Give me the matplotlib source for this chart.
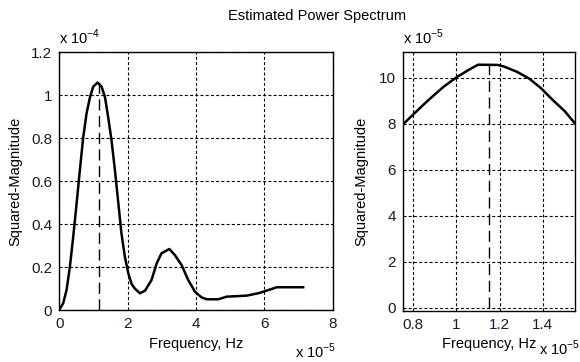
import matplotlib.pyplot as plt

plt.rcParams['font.family'] = ['Liberation Sans', 'DejaVu Sans']
plt.rcParams['mathtext.fontset'] = 'custom'
plt.rcParams['mathtext.rm'] = 'Liberation Sans'

# full spectrum (x in 1e-5 Hz, y in 1e-4)
freq = [0.0, 0.117, 0.216, 0.313, 0.41, 0.51, 0.605, 0.70, 0.80, 0.90, 0.995,
        1.12, 1.24, 1.34, 1.43, 1.53, 1.63, 1.73, 1.82, 1.92, 2.02, 2.12, 2.21,
        2.36, 2.51, 2.70, 2.85, 2.99, 3.22, 3.38, 3.58, 3.77, 3.97, 4.16, 4.31,
        4.65, 4.89, 5.48, 5.82, 6.06, 6.36, 7.13]
power = [0.0, 0.031, 0.093, 0.20, 0.34, 0.496, 0.651, 0.80, 0.915, 0.99, 1.04,
         1.059, 1.04, 0.99, 0.90, 0.79, 0.651, 0.496, 0.357, 0.248, 0.171, 0.12,
         0.10, 0.078, 0.09, 0.14, 0.217, 0.264, 0.284, 0.256, 0.209, 0.14, 0.085,
         0.059, 0.05, 0.05, 0.062, 0.067, 0.078, 0.09, 0.106, 0.106]

# zoom around the peak (x in 1e-5 Hz, y in 1e-5)
zfreq = [0.753, 0.80, 0.871, 0.94, 1.003, 1.05, 1.088, 1.10, 1.19, 1.22, 1.28,
         1.336, 1.39, 1.445, 1.50, 1.549]
zpower = [7.97, 8.4, 9.03, 9.6, 10.03, 10.3, 10.5, 10.56, 10.55, 10.48, 10.25,
          9.96, 9.55, 9.03, 8.55, 8.0]
fpeak = 1.15

fig = plt.figure(figsize=(5.8, 3.62), dpi=100)
ax1 = fig.add_axes([0.102, 0.1436, 0.472, 0.712])
ax2 = fig.add_axes([0.695, 0.141, 0.2966, 0.7146])

grid_kw = dict(color='black', linestyle=(0, (2.7, 2.0)), linewidth=0.8)

# left panel
ax1.plot(freq, power, color='black', lw=1.8)
ax1.plot([fpeak, fpeak], [0, 1.06], color='black', lw=1, dashes=(8, 4))
ax1.set_xlim(0, 8)
ax1.set_ylim(0, 1.2)
ax1.set_xticks([0, 2, 4, 6, 8])
ax1.set_yticks([0, 0.2, 0.4, 0.6, 0.8, 1.0, 1.2])
ax1.set_yticklabels(['0', '0.2', '0.4', '0.6', '0.8', '1', '1.2'])
ax1.grid(True, **grid_kw)
ax1.set_xlabel('Frequency, Hz', fontsize=10.5, labelpad=4)
ax1.set_ylabel('Squared-Magnitude', fontsize=10.5, labelpad=6)
ax1.text(0.0, 1.02, r'x 10$^{-4}$', transform=ax1.transAxes, fontsize=10.5,
         ha='left', va='bottom')
ax1.text(1.01, -0.185, r'x 10$^{-5}$', transform=ax1.transAxes, fontsize=10.5,
         ha='right', va='baseline')

# right panel
ax2.plot(zfreq, zpower, color='black', lw=1.8)
ax2.plot([fpeak, fpeak], [0, 10.56], color='black', lw=1, dashes=(8, 4))
ax2.set_xlim(0.753, 1.549)
ax2.set_ylim(-0.14, 11.1)
ax2.set_xticks([0.8, 1.0, 1.2, 1.4])
ax2.set_xticklabels(['0.8', '1', '1.2', '1.4'])
ax2.set_yticks([0, 2, 4, 6, 8, 10])
ax2.grid(True, **grid_kw)
ax2.set_xlabel('Frequency, Hz', fontsize=10.5, labelpad=4)
ax2.set_ylabel('Squared-Magnitude', fontsize=10.5, labelpad=8)
ax2.text(0.0, 1.02, r'x 10$^{-5}$', transform=ax2.transAxes, fontsize=10.5,
         ha='left', va='bottom')
ax2.text(1.03, -0.17, r'x 10$^{-5}$', transform=ax2.transAxes, fontsize=10.5,
         ha='right', va='baseline')

for ax in (ax1, ax2):
    ax.tick_params(direction='in', length=0, labelsize=11, pad=5, colors='#1a1a2e')
    for s in ax.spines.values():
        s.set_linewidth(1.0)

fig.text(0.547, 0.955, 'Estimated Power Spectrum', fontsize=10.5, ha='center', va='center')

fig.savefig('out.png', dpi=100)
